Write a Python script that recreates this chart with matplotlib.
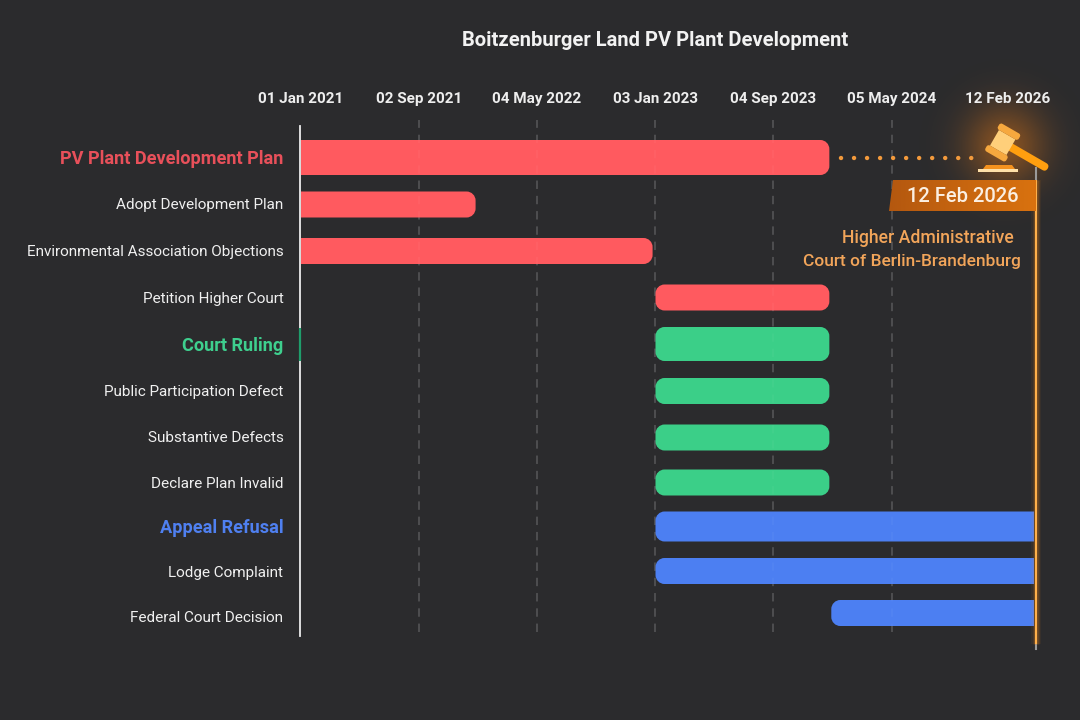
import numpy as np
import matplotlib
matplotlib.use("Agg")
import matplotlib.pyplot as plt
import matplotlib.dates as mdates
from datetime import date
from matplotlib.colors import LinearSegmentedColormap
from matplotlib.path import Path
from matplotlib.patches import PathPatch, Polygon, FancyBboxPatch, Rectangle
from matplotlib.transforms import Affine2D, IdentityTransform, ScaledTranslation

plt.rcParams['font.family'] = ['Roboto', 'DejaVu Sans']

tasks = ["PV Plant Development Plan", "Adopt Development Plan",
         "Environmental Association Objections", "Petition Higher Court",
         "Court Ruling", "Public Participation Defect", "Substantive Defects",
         "Declare Plan Invalid", "Appeal Refusal", "Lodge Complaint",
         "Federal Court Decision"]
starts = [date(2021, 1, 1), date(2021, 1, 1), date(2021, 1, 1), date(2023, 1, 3),
          date(2023, 1, 3), date(2023, 1, 3), date(2023, 1, 3), date(2023, 1, 3),
          date(2023, 1, 3), date(2023, 1, 3), date(2024, 1, 1)]
ends = [date(2023, 12, 28), date(2021, 12, 28), date(2022, 12, 28), date(2023, 12, 28),
        date(2023, 12, 28), date(2023, 12, 28), date(2023, 12, 28), date(2023, 12, 28),
        date(2026, 2, 3), date(2026, 2, 3), date(2026, 2, 3)]
groups = ["red", "red", "red", "red", "green", "green", "green", "green",
          "blue", "blue", "blue"]
parents = [0, 4, 8]
tick_dates = [date(2021, 1, 1), date(2021, 9, 2), date(2022, 5, 4), date(2023, 1, 3),
              date(2023, 9, 4), date(2024, 5, 5), date(2026, 2, 12)]
tick_labels = ["01 Jan 2021", "02 Sep 2021", "04 May 2022", "03 Jan 2023",
               "04 Sep 2023", "05 May 2024", "12 Feb 2026"]

# layout, pixels
row_y = [157.5, 204.5, 251, 297.5, 344, 391, 437.5, 482.5, 526.5, 571, 613]
row_h = [35, 26, 26, 26, 34, 26, 26, 26, 30, 26, 26]
label_y = [157.5, 204, 250.7, 297.2, 344, 390.7, 436.5, 482, 526, 571, 616]
tick_px = [300.5, 419, 537, 655.5, 773.5, 892, 1036]

BG = "#2b2b2d"
BAR = {"red": "#ff5a5f", "green": "#3bcf88", "blue": "#4c7ff2"}
LABEL = {"red": "#e8505a", "green": "#3ecf8e", "blue": "#4f80f0"}
ORANGE = "#f2a55a"

tick_num = mdates.date2num(tick_dates)


def to_px(v):
    return np.interp(v, tick_num, tick_px)


def from_px(v):
    return np.interp(v, tick_px, tick_num)


fig = plt.figure(figsize=(10.8, 7.2), dpi=100, facecolor=BG)

# background with the glow behind the gavel
bg = fig.add_axes([0, 0, 1, 1], zorder=0)
yy, xx = np.mgrid[0:720, 0:1080]
dist = np.hypot(xx - 1005, yy - 145)
glow = np.zeros((720, 1080, 4))
glow[..., 0] = 1.0
glow[..., 1] = 0.52
glow[..., 2] = 0.08
glow[..., 3] = 0.42 * np.exp(-(dist / 40.0) ** 2)
bg.imshow(glow, extent=(0, 1080, 720, 0), aspect="auto")
bg.set_xlim(0, 1080)
bg.set_ylim(720, 0)
bg.axis("off")

# main chart, y axis in pixels from the top of the figure
ax = fig.add_axes([300.5 / 1080, (720 - 632) / 720, 735.5 / 1080, (632 - 120) / 720], zorder=1)
ax.patch.set_alpha(0)
ax.set_xscale("function", functions=(to_px, from_px))
ax.set_xlim(tick_num[0], tick_num[-1])
ax.set_ylim(632, 120)
for s in ax.spines.values():
    s.set_visible(False)

ax.set_xticks(tick_num)
ax.set_xticklabels(tick_labels, fontsize=11, fontweight="bold", color="#eeeeee")
ax.xaxis.tick_top()
ax.tick_params(axis="x", length=0, pad=10)
ax.tick_params(axis="y", length=0, pad=12.3)
last = ax.get_xticklabels()[-1]
last.set_transform(last.get_transform() + ScaledTranslation(-0.28, 0, fig.dpi_scale_trans))

ax.set_yticks(label_y)
ax.set_yticklabels(tasks)
for i, lab in enumerate(ax.get_yticklabels()):
    if i in parents:
        lab.set_fontsize(13.1)
        lab.set_fontweight("bold")
        lab.set_color(LABEL[groups[i]])
    else:
        lab.set_fontsize(11)
        lab.set_color("#f0f0f0")

for t in tick_num[1:-1]:
    ax.axvline(t, color="#525254", lw=1.1, ls=(0, (5.5, 4.5)), zorder=1)
ax.plot([tick_num[0]] * 2, [126, 636], color="#ececec", lw=1.3, clip_on=False, zorder=2)
ax.plot([tick_num[0]] * 2, [328, 361], color="#1f9d6b", lw=1.6, clip_on=False, zorder=2.5,
        solid_capstyle="butt")


def round_bar(x0, x1, y0, y1, rl, rr):
    k = 0.45
    verts = [(x0 + rl, y0), (x1 - rr, y0),
             (x1 - rr * k, y0), (x1, y0 + rr * k), (x1, y0 + rr),
             (x1, y1 - rr),
             (x1, y1 - rr * k), (x1 - rr * k, y1), (x1 - rr, y1),
             (x0 + rl, y1),
             (x0 + rl * k, y1), (x0, y1 - rl * k), (x0, y1 - rl),
             (x0, y0 + rl),
             (x0, y0 + rl * k), (x0 + rl * k, y0), (x0 + rl, y0)]
    codes = [Path.MOVETO, Path.LINETO, Path.CURVE4, Path.CURVE4, Path.CURVE4, Path.LINETO,
             Path.CURVE4, Path.CURVE4, Path.CURVE4, Path.LINETO,
             Path.CURVE4, Path.CURVE4, Path.CURVE4, Path.LINETO,
             Path.CURVE4, Path.CURVE4, Path.CURVE4]
    return Path(verts, codes)


for i in range(len(tasks)):
    s, e = mdates.date2num(starts[i]), mdates.date2num(ends[i])
    a = ax.transData.transform((s, row_y[i] + row_h[i] / 2))
    b = ax.transData.transform((e, row_y[i] - row_h[i] / 2))
    rl = 0 if starts[i] == starts[0] else 9
    rr = 0 if ends[i] == ends[-1] else 9
    ax.add_patch(PathPatch(round_bar(a[0], b[0], a[1], b[1], rl, rr), transform=IdentityTransform(),
                           facecolor=BAR[groups[i]], edgecolor="none", zorder=3))

# faint trace of the grid over the bars
for t in tick_num[1:-1]:
    ax.axvline(t, color="white", alpha=0.04, lw=1.1, ls=(0, (5.5, 4.5)), zorder=4)

# the 12 Feb 2026 line
x_end = tick_num[-1]
ax.plot([x_end, x_end], [168, 180], color="#9a9a9a", lw=1.5, clip_on=False, zorder=4)
ax.plot([x_end, x_end], [632, 649], color="#9a9a9a", lw=1.5, clip_on=False, zorder=4)
for w, a_ in [(10, 0.06), (7, 0.10), (4.5, 0.18)]:
    ax.plot([x_end, x_end], [180, 644], color="#ff8a10", lw=w * 0.72, alpha=a_,
            clip_on=False, zorder=5, solid_capstyle="butt")
ax.plot([x_end, x_end], [180, 644], color="#ffb04a", lw=1.5, clip_on=False, zorder=6,
        solid_capstyle="butt")

# overlay in pixels for the callout
ov = fig.add_axes([0, 0, 1, 1], zorder=2)
ov.patch.set_alpha(0)
ov.set_xlim(0, 1080)
ov.set_ylim(720, 0)
ov.axis("off")

ov.plot([840.7, 975], [157.7, 157.7], color="#f39a3c", lw=3.2, dash_capstyle="round",
        ls=(0, (0.01, 2.92)))

flag = Polygon([(893, 180), (1036, 180), (1036, 211), (889, 211)], closed=True, transform=ov.transData,
               facecolor="none", edgecolor="none")
ov.add_patch(flag)
grad = ov.imshow(np.linspace(0, 1, 256).reshape(1, -1),
                 extent=(889, 1036, 211, 180), aspect="auto", zorder=2,
                 cmap=LinearSegmentedColormap.from_list("f", ["#b4580f", "#d9720f"]))
grad.set_clip_path(flag)
ov.set_xlim(0, 1080)
ov.set_ylim(720, 0)
ov.text(963, 197, "12 Feb 2026", ha="center", va="center", fontsize=14.5, fontweight="medium",
        color="#fbefe2", zorder=3)
ov.text(928, 238, "Higher Administrative", ha="center", va="center", fontsize=12.7,
        fontweight="medium", color=ORANGE)
ov.text(911.5, 261.5, "Court of Berlin-Brandenburg", ha="center", va="center", fontsize=12.5,
        fontweight="medium", color=ORANGE)

# gavel
rot = Affine2D().rotate_deg(30).translate(1002.7, 142.5) + ov.transData
ov.add_patch(Polygon([(983, 169), (986, 165), (1012, 165), (1015, 169)], facecolor="#f5921e", zorder=4))
ov.add_patch(Rectangle((978, 169), 39.5, 3.4, facecolor="#ffe0a8", zorder=4))
ov.add_patch(FancyBboxPatch((5, -4), 47, 8, boxstyle="round,pad=0,rounding_size=4",
                            facecolor="#ff9f0f", edgecolor="none", transform=rot, zorder=4))
ov.add_patch(Rectangle((-9.5, -9), 19, 18, facecolor="#ffcf7a", edgecolor="none", transform=rot, zorder=5))
for y0 in (-16, 9):
    ov.add_patch(FancyBboxPatch((-12, y0), 24, 7, boxstyle="round,pad=0,rounding_size=2.5",
                                facecolor="#f6a83e", edgecolor="none", transform=rot, zorder=6))

fig.text(655.5 / 1080, 1 - 41 / 720, "Boitzenburger Land PV Plant Development", ha="center", va="center",
         fontsize=14.5, fontweight="bold", color="#f2f2f2")

fig.savefig("out.png", dpi=100, facecolor=BG)
